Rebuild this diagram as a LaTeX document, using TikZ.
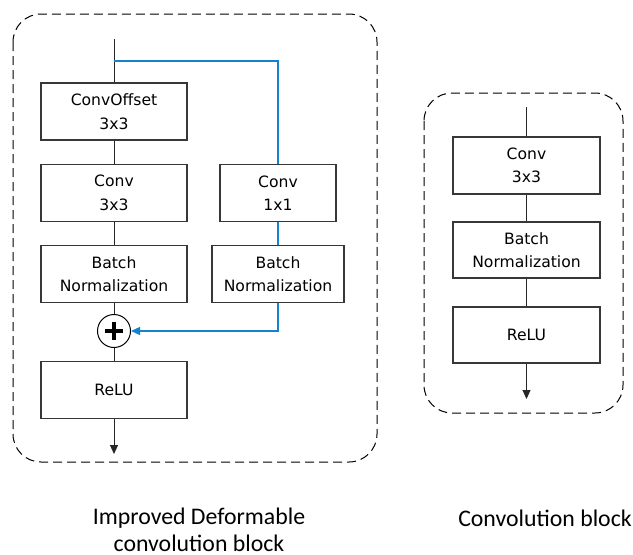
\documentclass[tikz,border=0pt]{standalone}
\usepackage{fontspec}
\setmainfont{DejaVu Sans}
\newfontfamily\capfont{Carlito}
\usetikzlibrary{arrows.meta}
\definecolor{bblue}{RGB}{20,130,205}
\definecolor{lgray}{RGB}{55,55,55}
\begin{document}
\begin{tikzpicture}[x=1pt,y=-1pt,
  blk/.style={draw=lgray,line width=1.1pt,minimum width=146pt,minimum height=57pt,align=center,inner sep=0pt,font=\fontsize{15.6}{23.5}\selectfont},
  frame/.style={draw=black,line width=1pt,dash pattern=on 9pt off 5pt,rounded corners=28pt},
  ln/.style={draw=black!85,line width=1pt},
  bl/.style={draw=bblue,line width=1.2pt},
  tip/.style={-{Triangle[width=8pt,length=9pt]}},
  captxt/.style={font=\capfont\fontsize{23.8}{27}\selectfont,align=center,inner sep=1pt}]
\useasboundingbox (0,0) rectangle (633,555);
% frames
\draw[frame] (13,14) rectangle (377,462);
\draw[frame] (424,93) rectangle (623,413);
% left block
\node[blk] (co) at (114,111.5) {ConvOffset\\3x3};
\node[blk] (c3) at (114,193) {Conv\\3x3};
\node[blk,minimum width=116pt] (c1) at (278,193) {Conv\\1x1};
\node[blk] (bn1) at (114,274) {Batch\\Normalization};
\node[blk,minimum width=132pt] (bn2) at (278,274) {Batch\\Normalization};
\node[circle,draw=black,line width=1pt,minimum size=33pt,inner sep=0pt] (pl) at (114,331) {};
\draw[line width=3.2pt] ([xshift=-9pt]pl.center) -- ([xshift=9pt]pl.center);
\draw[line width=3.2pt] ([yshift=-9pt]pl.center) -- ([yshift=9pt]pl.center);
\node[blk] (relu) at (114,390) {ReLU};
\coordinate (in1) at (114,39);
\coordinate (br) at (114,61);
\coordinate (out1) at (114,454);
\draw[ln] (in1) -- (co);
\draw[ln] (co) -- (c3);
\draw[ln] (c3) -- (bn1);
\draw[ln] (bn1) -- (pl);
\draw[ln] (pl) -- (relu);
\draw[ln,tip] (relu) -- (out1);
\draw[bl] (br) -| (c1.north);
\draw[bl] (c1) -- (bn2);
\draw[bl,tip] (bn2.south) |- (pl.east);
% right block
\node[blk,minimum width=147pt] (rc) at (526.5,165.5) {Conv\\3x3};
\node[blk,minimum width=147pt,minimum height=56pt] (rbn) at (526.5,250) {Batch\\Normalization};
\node[blk,minimum width=147pt,minimum height=56pt] (rrelu) at (526.5,335) {ReLU};
\coordinate (in2) at (526.5,107);
\coordinate (out2) at (526.5,399);
\draw[ln] (in2) -- (rc);
\draw[ln] (rc) -- (rbn);
\draw[ln] (rbn) -- (rrelu);
\draw[ln,tip] (rrelu) -- (out2);
% captions
\node[captxt] (t1) at (199,530) {Improved Deformable\\convolution block};
\node[captxt] (t2) at (545,518) {Convolution block};
\end{tikzpicture}
\end{document}
